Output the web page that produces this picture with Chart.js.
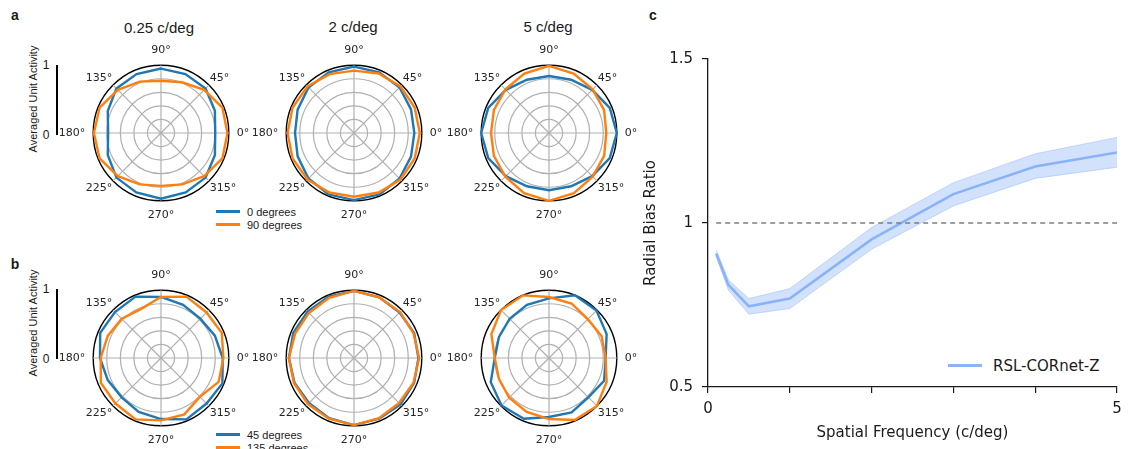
<!DOCTYPE html>
<html>
<head>
<meta charset="utf-8">
<script src="https://cdn.jsdelivr.net/npm/chart.js@4"></script>
<style>
  body { margin: 0; background: #fff; }
  #page { position: relative; width: 1130px; height: 449px; overflow: hidden; background: #fff; }
  canvas { position: absolute; }
  .txt { position: absolute; transform: translate(-50%, -50%); white-space: nowrap; color: #1a1a1a; }
  .panel { font: bold 14px "Liberation Sans", Arial, sans-serif; }
  .ttl { font: 15px "Liberation Sans", Arial, sans-serif; }
  .small { font: 11px "Liberation Sans", Arial, sans-serif; }
  .bar { position: absolute; width: 2px; background: #000; }
  .lg-line { position: absolute; height: 3px; }
  .lg-txt { position: absolute; transform: translateY(-50%); white-space: nowrap; color: #1a1a1a; }
</style>
</head>
<body>
<div id="page">
  <div class="txt panel" style="left:15px; top:15px;">a</div>
  <div class="txt panel" style="left:15px; top:264px;">b</div>
  <div class="txt panel" style="left:653px; top:15px;">c</div>

  <div class="txt ttl" style="left:159px; top:27px;">0.25 c/deg</div>
  <div class="txt ttl" style="left:353px; top:26px;">2 c/deg</div>
  <div class="txt ttl" style="left:548px; top:26px;">5 c/deg</div>

  <!-- scale bars -->
  <div class="bar" style="left:56px; top:65px; height:70px;"></div>
  <div class="txt small" style="left:46px; top:65px; font-size:12px;">1</div>
  <div class="txt small" style="left:46px; top:135px; font-size:12px;">0</div>
  <div class="txt small" style="left:33px; top:99px; transform: translate(-50%,-50%) rotate(-90deg);">Averaged Unit Activity</div>

  <div class="bar" style="left:56px; top:289px; height:70px;"></div>
  <div class="txt small" style="left:46px; top:289px; font-size:12px;">1</div>
  <div class="txt small" style="left:46px; top:359px; font-size:12px;">0</div>
  <div class="txt small" style="left:33px; top:323px; transform: translate(-50%,-50%) rotate(-90deg);">Averaged Unit Activity</div>

  <!-- polar legends -->
  <div class="lg-line" style="left:216px; top:210px; width:24px; background:#1f77b4;"></div>
  <div class="lg-txt small" style="left:247px; top:212px;">0 degrees</div>
  <div class="lg-line" style="left:216px; top:223px; width:24px; background:#ff7f0e;"></div>
  <div class="lg-txt small" style="left:247px; top:225px;">90 degrees</div>
  <div class="lg-line" style="left:216px; top:433px; width:24px; background:#1f77b4;"></div>
  <div class="lg-txt small" style="left:247px; top:435px;">45 degrees</div>
  <div class="lg-line" style="left:216px; top:446px; width:24px; background:#ff7f0e;"></div>
  <div class="lg-txt small" style="left:247px; top:448px;">135 degrees</div>

  <!-- right legend -->
  <div class="lg-line" style="left:948px; top:364px; width:34px; background:#8ab4f8;"></div>
  <div class="lg-txt" style="left:993px; top:366px; font: 15px 'DejaVu Sans', sans-serif;">RSL-CORnet-Z</div>
</div>
<script>
// polar angles (deg), counter-clockwise from 0
const angles = [0, 22.5, 45, 67.5, 90, 112.5, 135, 157.5, 180, 202.5, 225, 247.5, 270, 292.5, 315, 337.5];

// row a: 0 vs 90 degrees gratings
const a025_0deg  = [0.80, 0.86, 0.93, 0.94, 0.95, 0.94, 0.93, 0.85, 0.78, 0.85, 0.93, 0.95, 0.97, 0.95, 0.93, 0.86];
const a025_90deg = [0.98, 0.98, 0.90, 0.81, 0.77, 0.82, 0.90, 0.98, 0.99, 0.98, 0.90, 0.82, 0.78, 0.82, 0.90, 0.98];
const a2_0deg    = [0.89, 0.91, 0.95, 0.97, 0.98, 0.97, 0.95, 0.90, 0.87, 0.90, 0.95, 0.98, 0.99, 0.98, 0.95, 0.91];
const a2_90deg   = [0.97, 0.97, 0.97, 0.95, 0.92, 0.94, 0.97, 0.98, 0.98, 0.98, 0.97, 0.95, 0.94, 0.95, 0.97, 0.97];
const a5_0deg    = [1.00, 0.97, 0.90, 0.85, 0.84, 0.85, 0.90, 0.97, 1.00, 0.97, 0.90, 0.85, 0.845, 0.85, 0.90, 0.97];
const a5_90deg   = [0.845, 0.88, 0.91, 0.95, 0.99, 0.95, 0.91, 0.88, 0.855, 0.88, 0.91, 0.96, 1.00, 0.96, 0.91, 0.88];

// row b: 45 vs 135 degrees gratings
const b025_45deg  = [0.91, 0.86, 0.82, 0.85, 0.90, 0.98, 0.96, 0.97, 0.90, 0.85, 0.82, 0.86, 0.90, 0.98, 0.95, 0.98];
const b025_135deg = [0.92, 0.97, 0.95, 0.98, 0.90, 0.78, 0.82, 0.85, 0.89, 0.96, 0.95, 0.98, 0.92, 0.90, 0.81, 0.92];
const b2_45deg    = [0.95, 0.96, 0.95, 0.97, 0.99, 0.98, 0.97, 0.97, 0.96, 0.95, 0.94, 0.96, 0.99, 0.97, 0.97, 0.96];
const b2_135deg   = [0.96, 0.95, 0.96, 0.97, 0.99, 0.96, 0.94, 0.94, 0.96, 0.96, 0.96, 0.97, 0.99, 0.96, 0.94, 0.95];
const b5_45deg    = [0.835, 0.92, 0.99, 1.00, 0.88, 0.85, 0.82, 0.80, 0.80, 0.93, 0.99, 0.97, 0.87, 0.87, 0.82, 0.88];
const b5_135deg   = [0.835, 0.84, 0.81, 0.87, 0.90, 1.00, 1.00, 0.92, 0.80, 0.80, 0.83, 0.86, 0.90, 0.99, 1.00, 0.92];

// panel c
const sfX = [0.1, 0.25, 0.5, 1, 2, 3, 4, 5];
const ratioMean  = [0.907, 0.811, 0.746, 0.770, 0.950, 1.088, 1.172, 1.215];
const ratioUpper = [0.918, 0.826, 0.770, 0.800, 0.986, 1.123, 1.211, 1.261];
const ratioLower = [0.898, 0.795, 0.722, 0.739, 0.920, 1.052, 1.136, 1.170];
const refLineX = [0.1, 5];
const refLineY = [1, 1];

Chart.defaults.font.family = "'DejaVu Sans', sans-serif";
Chart.defaults.color = '#1a1a1a';

const BLUE = '#1f77b4';
const ORANGE = '#ff7f0e';
const BAND = '#8ab4f8';

// radar goes clockwise from the top, so walk angles 90, 67.5, 45 ...
const N = angles.length;
const radarIdx = [];
for (let i = 0; i < N; i++) radarIdx.push((4 - i + N) % N);
const radarLabels = radarIdx.map(k => angles[k] + '°');
const toRadar = arr => radarIdx.map(k => arr[k]);

const PW = 240, PH = 178;

function makePolar(cx, cy, blue, orange) {
    const page = document.getElementById('page');
    const cv = document.createElement('canvas');
    cv.width = PW; cv.height = PH;
    cv.style.left = (cx - PW / 2) + 'px';
    cv.style.top = (cy - PH / 2) + 'px';
    page.appendChild(cv);
    new Chart(cv.getContext('2d'), {
        type: 'radar',
        data: {
            labels: radarLabels,
            datasets: [
                { data: toRadar(blue), borderColor: BLUE, borderWidth: 2.4, pointRadius: 0, fill: false, order: 1 },
                { data: toRadar(orange), borderColor: ORANGE, borderWidth: 2.4, pointRadius: 0, fill: false, order: 0 }
            ]
        },
        options: {
            responsive: false,
            animation: false,
            plugins: { legend: { display: false }, tooltip: { enabled: false } },
            scales: {
                r: {
                    min: 0, max: 1,
                    ticks: { display: false, stepSize: 0.2 },
                    grid: {
                        circular: true,
                        color: c => (c.tick && c.tick.value >= 1) ? '#000' : '#b0b0b0',
                        lineWidth: c => (c.tick && c.tick.value >= 1) ? 1.4 : 1.2
                    },
                    angleLines: { color: '#b0b0b0', lineWidth: c => c.index % 2 === 0 ? 1.2 : 0 },
                    pointLabels: {
                        callback: (l, i) => i % 2 === 0 ? l : '',
                        font: { size: 11 },
                        color: '#262626',
                        // diagonal labels sit closer in the original
                        padding: c => c.index % 4 === 2 ? 1 : 8
                    }
                }
            }
        }
    });
}

makePolar(160, 133, a025_0deg, a025_90deg);
makePolar(353, 133, a2_0deg, a2_90deg);
makePolar(548, 133, a5_0deg, a5_90deg);
makePolar(160, 358, b025_45deg, b025_135deg);
makePolar(353, 358, b2_45deg, b2_135deg);
makePolar(548, 358, b5_45deg, b5_135deg);

// panel c
const cv = document.createElement('canvas');
cv.width = 490; cv.height = 449;
cv.style.left = '640px'; cv.style.top = '0px';
document.getElementById('page').appendChild(cv);

const pts = ys => sfX.map((x, i) => ({ x: x, y: ys[i] }));

new Chart(cv.getContext('2d'), {
    type: 'line',
    data: {
        datasets: [
            { data: refLineX.map((x, i) => ({ x: x, y: refLineY[i] })), borderColor: '#7f7f7f', borderWidth: 1.3,
              borderDash: [5, 4], pointRadius: 0, fill: false, order: -1 },
            { data: pts(ratioUpper), borderColor: 'rgba(138,180,248,0.55)', borderWidth: 0.8, pointRadius: 0,
              fill: '+1', backgroundColor: 'rgba(138,180,248,0.38)' },
            { data: pts(ratioLower), borderColor: 'rgba(138,180,248,0.55)', borderWidth: 0.8, pointRadius: 0, fill: false },
            { data: pts(ratioMean), borderColor: BAND, borderWidth: 2.6, pointRadius: 0, fill: false }
        ]
    },
    options: {
        responsive: false,
        animation: false,
        layout: { padding: { top: 59, right: 13, left: 0, bottom: 0 } },
        plugins: { legend: { display: false }, tooltip: { enabled: false } },
        scales: {
            x: {
                type: 'linear', min: 0, max: 5,
                afterFit: s => { s.height = 62; },
                ticks: { stepSize: 1, autoSkip: false, maxRotation: 0, padding: 7,
                         callback: v => (v === 0 || v === 5) ? String(v) : '',
                         font: { size: 15 }, color: '#1a1a1a' },
                grid: { drawOnChartArea: false, drawTicks: true, tickLength: 6, color: '#1a1a1a', lineWidth: 1.2 },
                border: { display: true, color: '#1a1a1a', width: 1.3 },
                title: { display: true, text: 'Spatial Frequency (c/deg)', font: { size: 15 }, color: '#1a1a1a',
                         padding: { top: 0, bottom: 7 } }
            },
            y: {
                min: 0.5, max: 1.5,
                afterFit: s => { s.width = 68; },
                ticks: { stepSize: 0.5, padding: 9, callback: v => String(v), font: { size: 15 }, color: '#1a1a1a' },
                grid: { drawOnChartArea: false, drawTicks: true, tickLength: 6, color: '#1a1a1a', lineWidth: 1.2 },
                border: { display: true, color: '#1a1a1a', width: 1.3 },
                title: { display: true, text: 'Radial Bias Ratio', font: { size: 15 }, color: '#1a1a1a',
                         padding: { top: 2, bottom: 0 } }
            }
        }
    }
});
</script>
</body>
</html>
